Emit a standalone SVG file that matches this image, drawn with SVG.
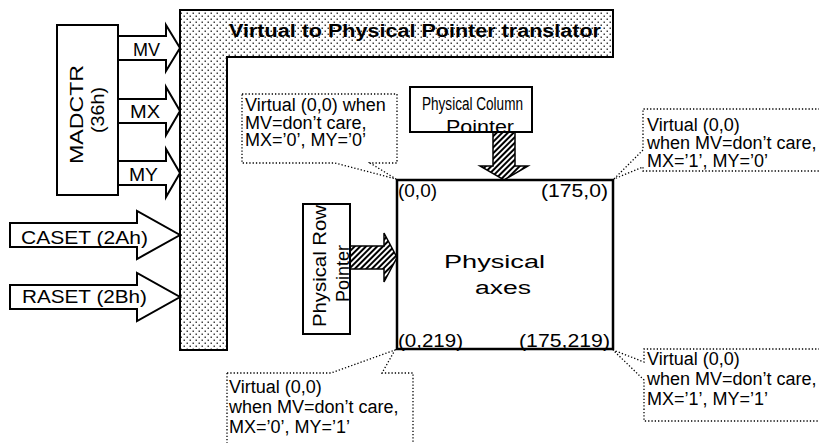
<svg xmlns="http://www.w3.org/2000/svg" width="819" height="443" viewBox="0 0 819 443">
<style>
.t{font-family:"Liberation Sans",Arial,sans-serif;font-size:18px;fill:#000}
.b{font-weight:bold}
.box{fill:#fff;stroke:#000;stroke-width:2}
.arrow{fill:#fff;stroke:#000;stroke-width:2}
.hat{fill:url(#hatch);stroke:#000;stroke-width:1.5}
.callout{fill:none;stroke:#000;stroke-width:1.3;stroke-dasharray:1.3 2}
</style>
<defs>
<pattern id="dots" width="6" height="6" patternUnits="userSpaceOnUse">
<rect width="6" height="6" fill="#fff"/>
<rect x="0.5" y="0.5" width="1.5" height="1.5" fill="#444"/>
<rect x="3.5" y="3.5" width="1.5" height="1.5" fill="#444"/>
</pattern>
<pattern id="hatch" width="4" height="4" patternUnits="userSpaceOnUse" patternTransform="rotate(45)">
<rect width="4" height="4" fill="#fff"/>
<rect width="2" height="4" fill="#000"/>
</pattern>
</defs>
<rect width="819" height="443" fill="#fff"/>

<g id="translator">
<polygon points="180,10 613,10 613,57 227,57 227,350 180,350" fill="url(#dots)" stroke="#000" stroke-width="2"/>
<text class="t b" x="229" y="37" font-size="19" textLength="372" lengthAdjust="spacingAndGlyphs">Virtual to Physical Pointer translator</text>
</g>

<g id="madctr">
<rect class="box" x="57" y="25" width="61" height="170"/>
<text class="t" font-size="20" transform="translate(83,164) rotate(-90)" textLength="99" lengthAdjust="spacingAndGlyphs">MADCTR</text>
<text class="t" font-size="20" transform="translate(104,133) rotate(-90)" textLength="46" lengthAdjust="spacingAndGlyphs">(36h)</text>
</g>

<g id="connectors">
<polygon class="arrow" points="118,36 166,36 166,25 180,48 166,71 166,60 118,60"/>
<polygon class="arrow" points="118,99 166,99 166,87 180,111 166,135 166,123 118,123"/>
<polygon class="arrow" points="118,161 166,161 166,149 180,173 166,197 166,185 118,185"/>
<polygon class="arrow" points="10,223 137,223 137,211 180,235 137,259 137,247 10,247"/>
<polygon class="arrow" points="10,285 137,285 137,273 180,297 137,321 137,309 10,309"/>
<polygon class="hat" points="493,131 515,131 515,166 528,166 504,180 480,166 493,166"/>
<polygon class="hat" points="350,246 384,246 384,233 397,257.5 384,282 384,269 350,269"/>
<text class="t" x="133" y="56" textLength="27" lengthAdjust="spacingAndGlyphs">MV</text>
<text class="t" x="130" y="118" textLength="30" lengthAdjust="spacingAndGlyphs">MX</text>
<text class="t" x="129" y="181" textLength="29" lengthAdjust="spacingAndGlyphs">MY</text>
<text class="t" x="21" y="244" font-size="19" textLength="127" lengthAdjust="spacingAndGlyphs">CASET (2Ah)</text>
<text class="t" x="22" y="303" font-size="19" textLength="125" lengthAdjust="spacingAndGlyphs">RASET (2Bh)</text>
</g>

<g id="column-pointer">
<rect class="box" x="410" y="87" width="122" height="45"/>
<text class="t" x="422" y="110" font-size="19" textLength="101" lengthAdjust="spacingAndGlyphs">Physical Column</text>
<text class="t" x="446" y="133" textLength="68" lengthAdjust="spacingAndGlyphs">Pointer</text>
</g>

<g id="row-pointer">
<rect class="box" x="303" y="204" width="47" height="130"/>
<text class="t" font-size="19" transform="translate(326,327) rotate(-90)" textLength="122" lengthAdjust="spacingAndGlyphs">Physical Row</text>
<text class="t" transform="translate(349,302) rotate(-90)" textLength="57" lengthAdjust="spacingAndGlyphs">Pointer</text>
</g>

<g id="physical-axes">
<rect x="397" y="180" width="216" height="169" fill="#fff" stroke="#000" stroke-width="2.5"/>
<text class="t" x="398" y="197" textLength="39" lengthAdjust="spacingAndGlyphs">(0,0)</text>
<text class="t" x="541" y="197" textLength="67" lengthAdjust="spacingAndGlyphs">(175,0)</text>
<text class="t" x="444" y="268" font-size="22" textLength="101" lengthAdjust="spacingAndGlyphs">Physical</text>
<text class="t" x="475" y="294" font-size="22" textLength="56" lengthAdjust="spacingAndGlyphs">axes</text>
<text class="t" x="398" y="347" textLength="65" lengthAdjust="spacingAndGlyphs">(0,219)</text>
<text class="t" x="519" y="347" textLength="91" lengthAdjust="spacingAndGlyphs">(175,219)</text>
</g>

<g id="callout-tl">
<path class="callout" d="M242,94 H397 V163 H370 L396,179 L335,163 H242 Z"/>
<text class="t" x="245" y="111">Virtual (0,0) when</text>
<text class="t" x="245" y="128.5">MV=don’t care,</text>
<text class="t" x="245" y="146">MX=’0’, MY=’0’</text>
</g>

<g id="callout-tr">
<path class="callout" d="M823,109 H643 V150 L614,179 L643,167 V171 H823"/>
<text class="t" x="647" y="131">Virtual (0,0)</text>
<text class="t" x="647" y="149">when MV=don’t care,</text>
<text class="t" x="647" y="167">MX=’1’, MY=’0’</text>
</g>

<g id="callout-bl">
<path class="callout" d="M227,373 H331 L395,350 L382,373 H413 V445 M227,373 V445"/>
<text class="t" x="229" y="393">Virtual (0,0)</text>
<text class="t" x="229" y="413">when MV=don’t care,</text>
<text class="t" x="229" y="433">MX=’0’, MY=’1’</text>
</g>

<g id="callout-br">
<path class="callout" d="M823,349 H644 V362 L613,350 L644,380 V421 H823"/>
<text class="t" x="647" y="365">Virtual (0,0)</text>
<text class="t" x="647" y="385">when MV=don’t care,</text>
<text class="t" x="647" y="405">MX=’1’, MY=’1’</text>
</g>
</svg>
